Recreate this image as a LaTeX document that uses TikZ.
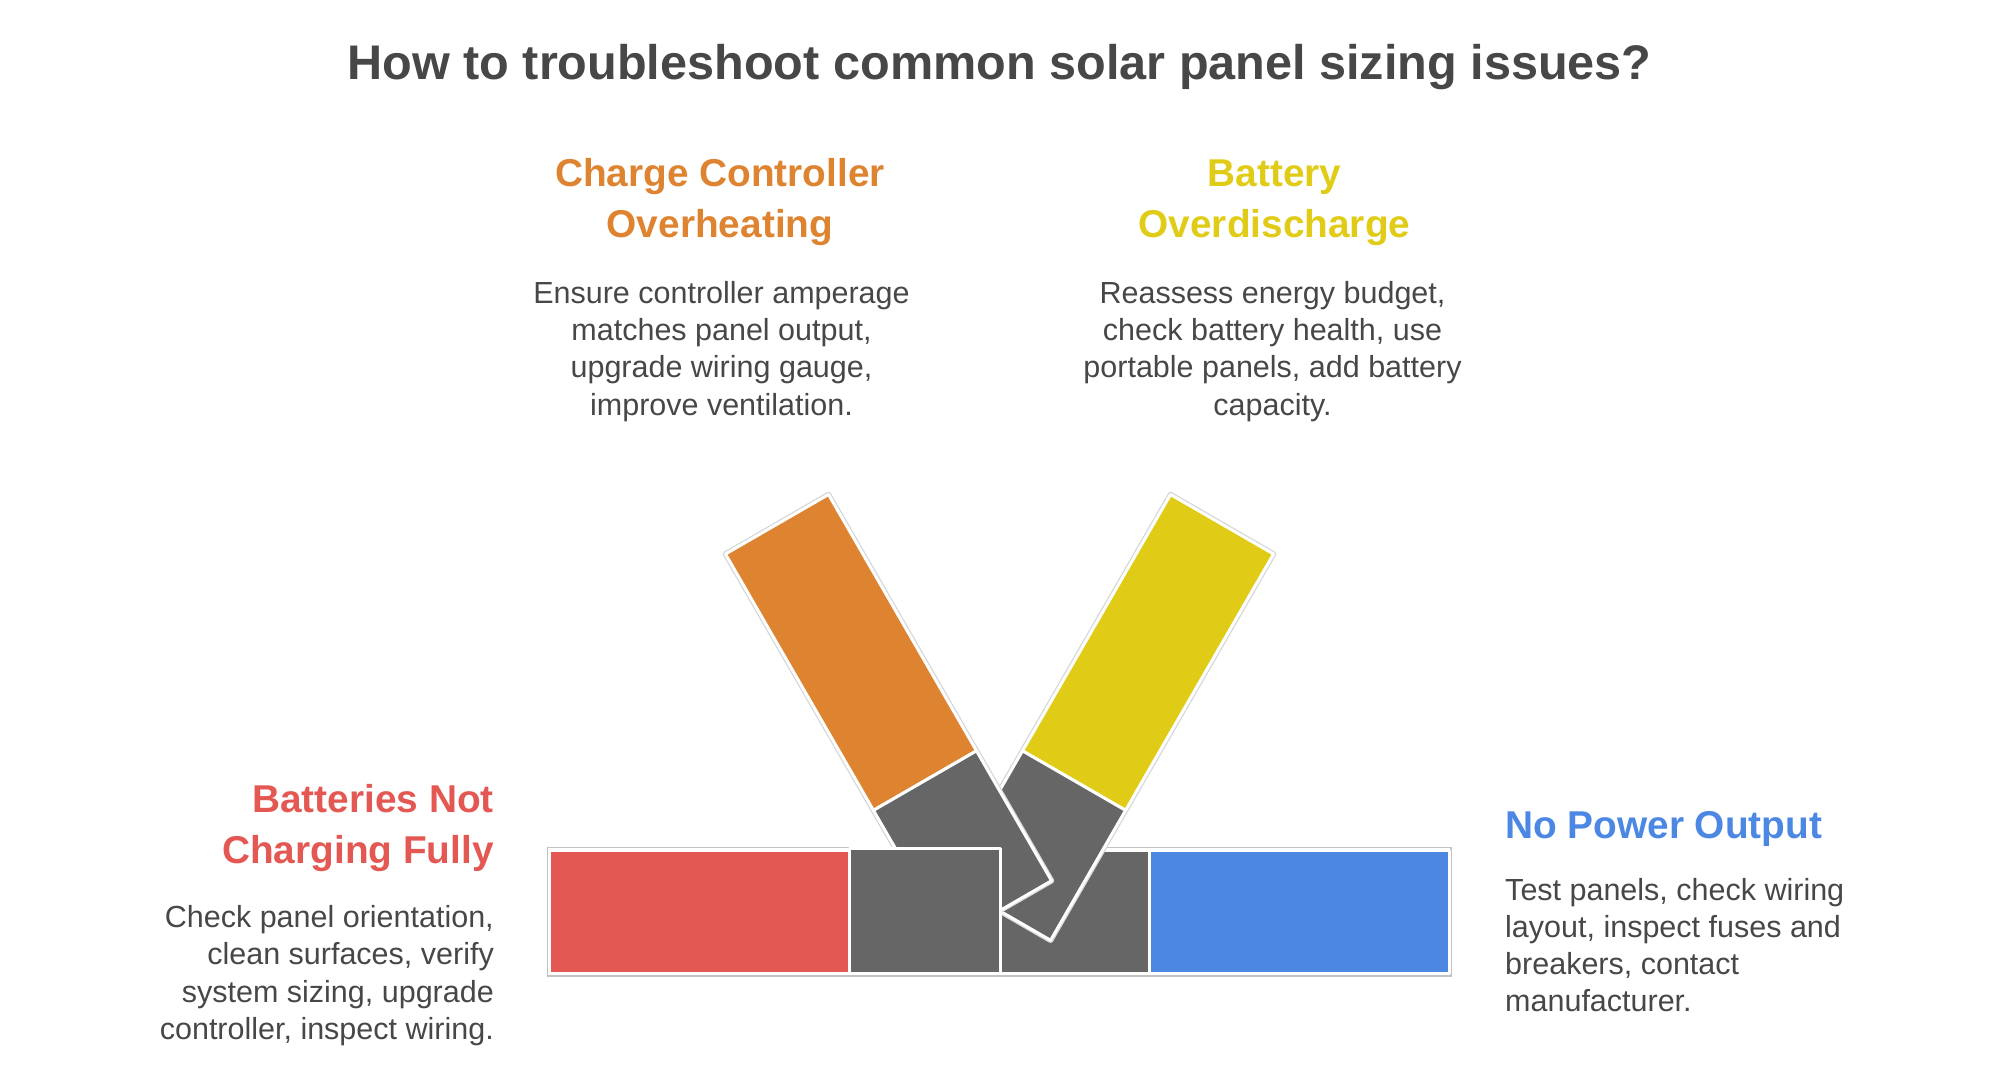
\documentclass[tikz,border=0pt]{standalone}
\usepackage{fontspec}
\setmainfont{Liberation Sans}
\usetikzlibrary{calc}
\definecolor{cred}{HTML}{E35853}
\definecolor{cblue}{HTML}{4C88E3}
\definecolor{corange}{HTML}{DE8431}
\definecolor{cyellow}{HTML}{E0CC17}
\definecolor{cgray}{HTML}{666666}
\definecolor{txt}{HTML}{474747}
\begin{document}
\begin{tikzpicture}[x=1pt,y=-1pt,
  piece/.style={draw=white, line width=3pt, line join=round},
  halo/.style={draw=black!16, line width=5.5pt, line join=round},
  ttl/.style={font=\fontsize{48.6}{58}\selectfont\bfseries, text=txt, inner sep=0pt},
  hd/.style={font=\fontsize{38.8}{51}\selectfont\bfseries, inner sep=0pt},
  bd/.style={font=\fontsize{30.5}{37.3}\selectfont, text=txt, inner sep=0pt}]
\useasboundingbox (0,0) rectangle (1999,1081);

% ---------- title ----------
\node[ttl, anchor=base] (title) at (999.5,80) {How to troubleshoot common solar panel sizing issues?};

% ---------- geometry ----------
\coordinate (oT1) at (828.5,494.5);
\coordinate (oT2) at (725.45,554.0);
\coordinate (oA)  at (976.5,750.84);
\coordinate (oA2) at (873.45,810.34);
\coordinate (oB)  at (1051.5,880.74);
\coordinate (oD)  at (948.45,940.24);
\coordinate (yT1) at (1170.5,494.5);
\coordinate (yT2) at (1273.55,554.0);
\coordinate (yE)  at (1022.5,750.84);
\coordinate (yE2) at (1125.55,810.34);
\coordinate (yH)  at (947.5,880.74);
\coordinate (yG)  at (1050.55,940.24);

% ---------- horizontal bar ----------
\draw[draw=black!24, line width=1.2pt, fill=white] (547.5,847.5) rectangle (1451,976);
\filldraw[piece, fill=cred]  (549.5,850) rectangle (849,973.5);
\filldraw[piece, fill=cgray] (1000.2,850) rectangle (1149.3,973.5);
\filldraw[piece, fill=cblue] (1149.3,850) rectangle (1449.5,973.5);

% ---------- yellow arm ----------
\path[halo] (yT1) -- (yT2) -- (yG) -- (yH) -- cycle;
\filldraw[piece, fill=cyellow] (yT1) -- (yT2) -- (yE2) -- (yE) -- cycle;
\filldraw[piece, fill=cgray] (yE) -- (yE2) -- (yG) -- (yH) -- cycle;

% ---------- orange arm ----------
\path[halo] (oT1) -- (oT2) -- (oD) -- (oB) -- cycle;
\filldraw[piece, fill=corange] (oT1) -- (oT2) -- (oA2) -- (oA) -- cycle;
\filldraw[piece, fill=cgray] (oA) -- (oA2) -- (oD) -- (oB) -- cycle;

% ---------- left gray box on top ----------
\filldraw[piece, fill=cgray] (849,848.5) rectangle (1000.2,973.5);

% ---------- texts (base anchor = baseline of last line) ----------
\node[hd, text=corange, align=center, anchor=base] (ohd) at (720,237.7) {Charge Controller\\Overheating};
\node[bd, align=center, anchor=base] (obd) at (721.5,415.2) {Ensure controller amperage\\matches panel output,\\upgrade wiring gauge,\\improve ventilation.};

\node[hd, text=cyellow, align=center, anchor=base] (yhd) at (1274.5,237.7) {Battery\\Overdischarge};
\node[bd, align=center, anchor=base] (ybd) at (1272.5,415.2) {Reassess energy budget,\\check battery health, use\\portable panels, add battery\\capacity.};

\node[hd, text=cred, align=right, anchor=base east] (rhd) at (494,863.3) {Batteries Not\\Charging Fully};
\node[bd, align=right, anchor=base east] (rbd) at (494,1039.5) {Check panel orientation,\\clean surfaces, verify\\system sizing, upgrade\\controller, inspect wiring.};

\node[hd, text=cblue, align=left, anchor=base west] (bhd) at (1505,838.3) {No Power Output};
\node[bd, align=left, anchor=base west] (bbd) at (1505,1011.9) {Test panels, check wiring\\layout, inspect fuses and\\breakers, contact\\manufacturer.};
\end{tikzpicture}
\end{document}
